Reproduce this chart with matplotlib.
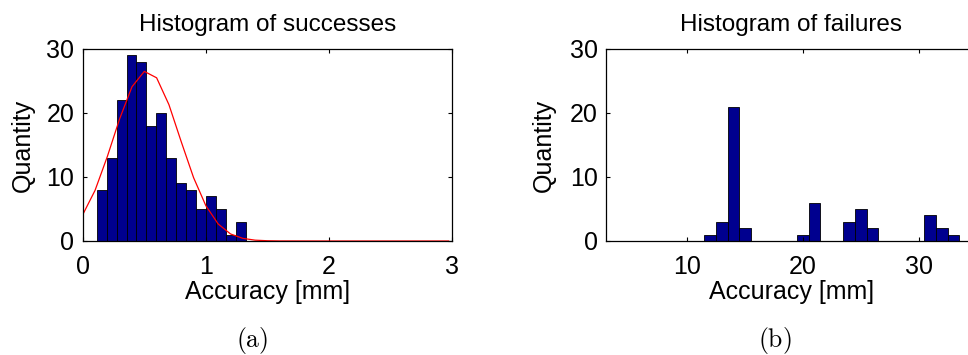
import matplotlib
matplotlib.use("Agg")
import matplotlib.pyplot as plt

plt.rcParams['font.family'] = ['Liberation Sans', 'DejaVu Sans']
plt.rcParams['mathtext.fontset'] = 'cm'

# ---- data: successes histogram ----
succ_centers = [0.154, 0.235, 0.316, 0.396, 0.477, 0.558, 0.638, 0.719,
                0.800, 0.880, 0.961, 1.042, 1.122, 1.203, 1.284]
succ_counts = [8, 13, 22, 29, 28, 18, 20, 13, 9, 8, 5, 7, 5, 1, 3]
succ_width = 0.0807

# fitted normal curve
fit_x = [0.0, 0.1, 0.2, 0.3, 0.4, 0.5, 0.6, 0.7, 0.8, 0.9, 1.0, 1.1, 1.2,
         1.3, 1.4, 1.5, 1.6, 2.0, 2.5, 2.97]
fit_y = [4.1, 7.9, 13.2, 19.1, 24.1, 26.5, 25.5, 21.3, 15.5, 9.9, 5.5, 2.65,
         1.1, 0.41, 0.13, 0.04, 0.01, 0.0, 0.0, 0.0]

# ---- data: failures histogram ----
fail_centers = [12, 13, 14, 15, 20, 21, 24, 25, 26, 31, 32, 33]
fail_counts = [1, 3, 21, 2, 1, 6, 3, 5, 2, 4, 2, 1]
fail_width = 1.0

titles = ["Histogram of successes", "Histogram of failures"]
xlabel = "Accuracy [mm]"
ylabel = "Quantity"
captions = [r"$\mathrm{(a)}$", r"$\mathrm{(b)}$"]

W, H = 968, 355
fig = plt.figure(figsize=(W / 100, H / 100), dpi=100)

bar_color = (0, 0, 0.5625)
tick_fs = 18
label_fs = 18
title_fs = 17.5


def style(ax):
    ax.tick_params(direction='in', length=3, width=0.8, top=True, right=True,
                   labelsize=tick_fs, pad=10)
    ax.tick_params(axis='y', pad=6)
    for s in ax.spines.values():
        s.set_linewidth(0.9)


# left axes
ax1 = fig.add_axes([82.7 / W, (H - 241) / H, 369.6 / W, 192 / H])
ax1.bar(succ_centers, succ_counts, width=succ_width, color=bar_color,
        edgecolor='black', linewidth=0.6)
ax1.plot(fit_x, fit_y, color='red', linewidth=0.9, clip_on=True)
ax1.set_xlim(0, 3)
ax1.set_ylim(0, 30)
ax1.set_xticks([0, 1, 2, 3])
ax1.set_yticks([0, 10, 20, 30])
ax1.set_title(titles[0], fontsize=title_fs, pad=13)
ax1.set_xlabel(xlabel, fontsize=label_fs, labelpad=1)
style(ax1)

# right axes
ax2 = fig.add_axes([606 / W, (H - 241) / H, 370.6 / W, 192 / H])
ax2.bar(fail_centers, fail_counts, width=fail_width, color=bar_color,
        edgecolor='black', linewidth=0.6)
ax2.set_xlim(3, 35)
ax2.set_ylim(0, 30)
ax2.set_xticks([10, 20, 30])
ax2.set_yticks([0, 10, 20, 30])
ax2.set_title(titles[1], fontsize=title_fs, pad=13)
ax2.set_xlabel(xlabel, fontsize=label_fs, labelpad=1)
style(ax2)

# y labels
fig.text(22.5 / W, 1 - 145 / H, ylabel, rotation=90, ha='center', va='center',
         fontsize=label_fs)
fig.text(544 / W, 1 - 145 / H, ylabel, rotation=90, ha='center', va='center',
         fontsize=label_fs)

# captions
fig.text(251.7 / W, 1 - 340.5 / H, captions[0], ha='center', va='center',
         fontsize=18.5)
fig.text(775 / W, 1 - 340.5 / H, captions[1], ha='center', va='center',
         fontsize=18.5)

fig.savefig("out.png", dpi=100)
